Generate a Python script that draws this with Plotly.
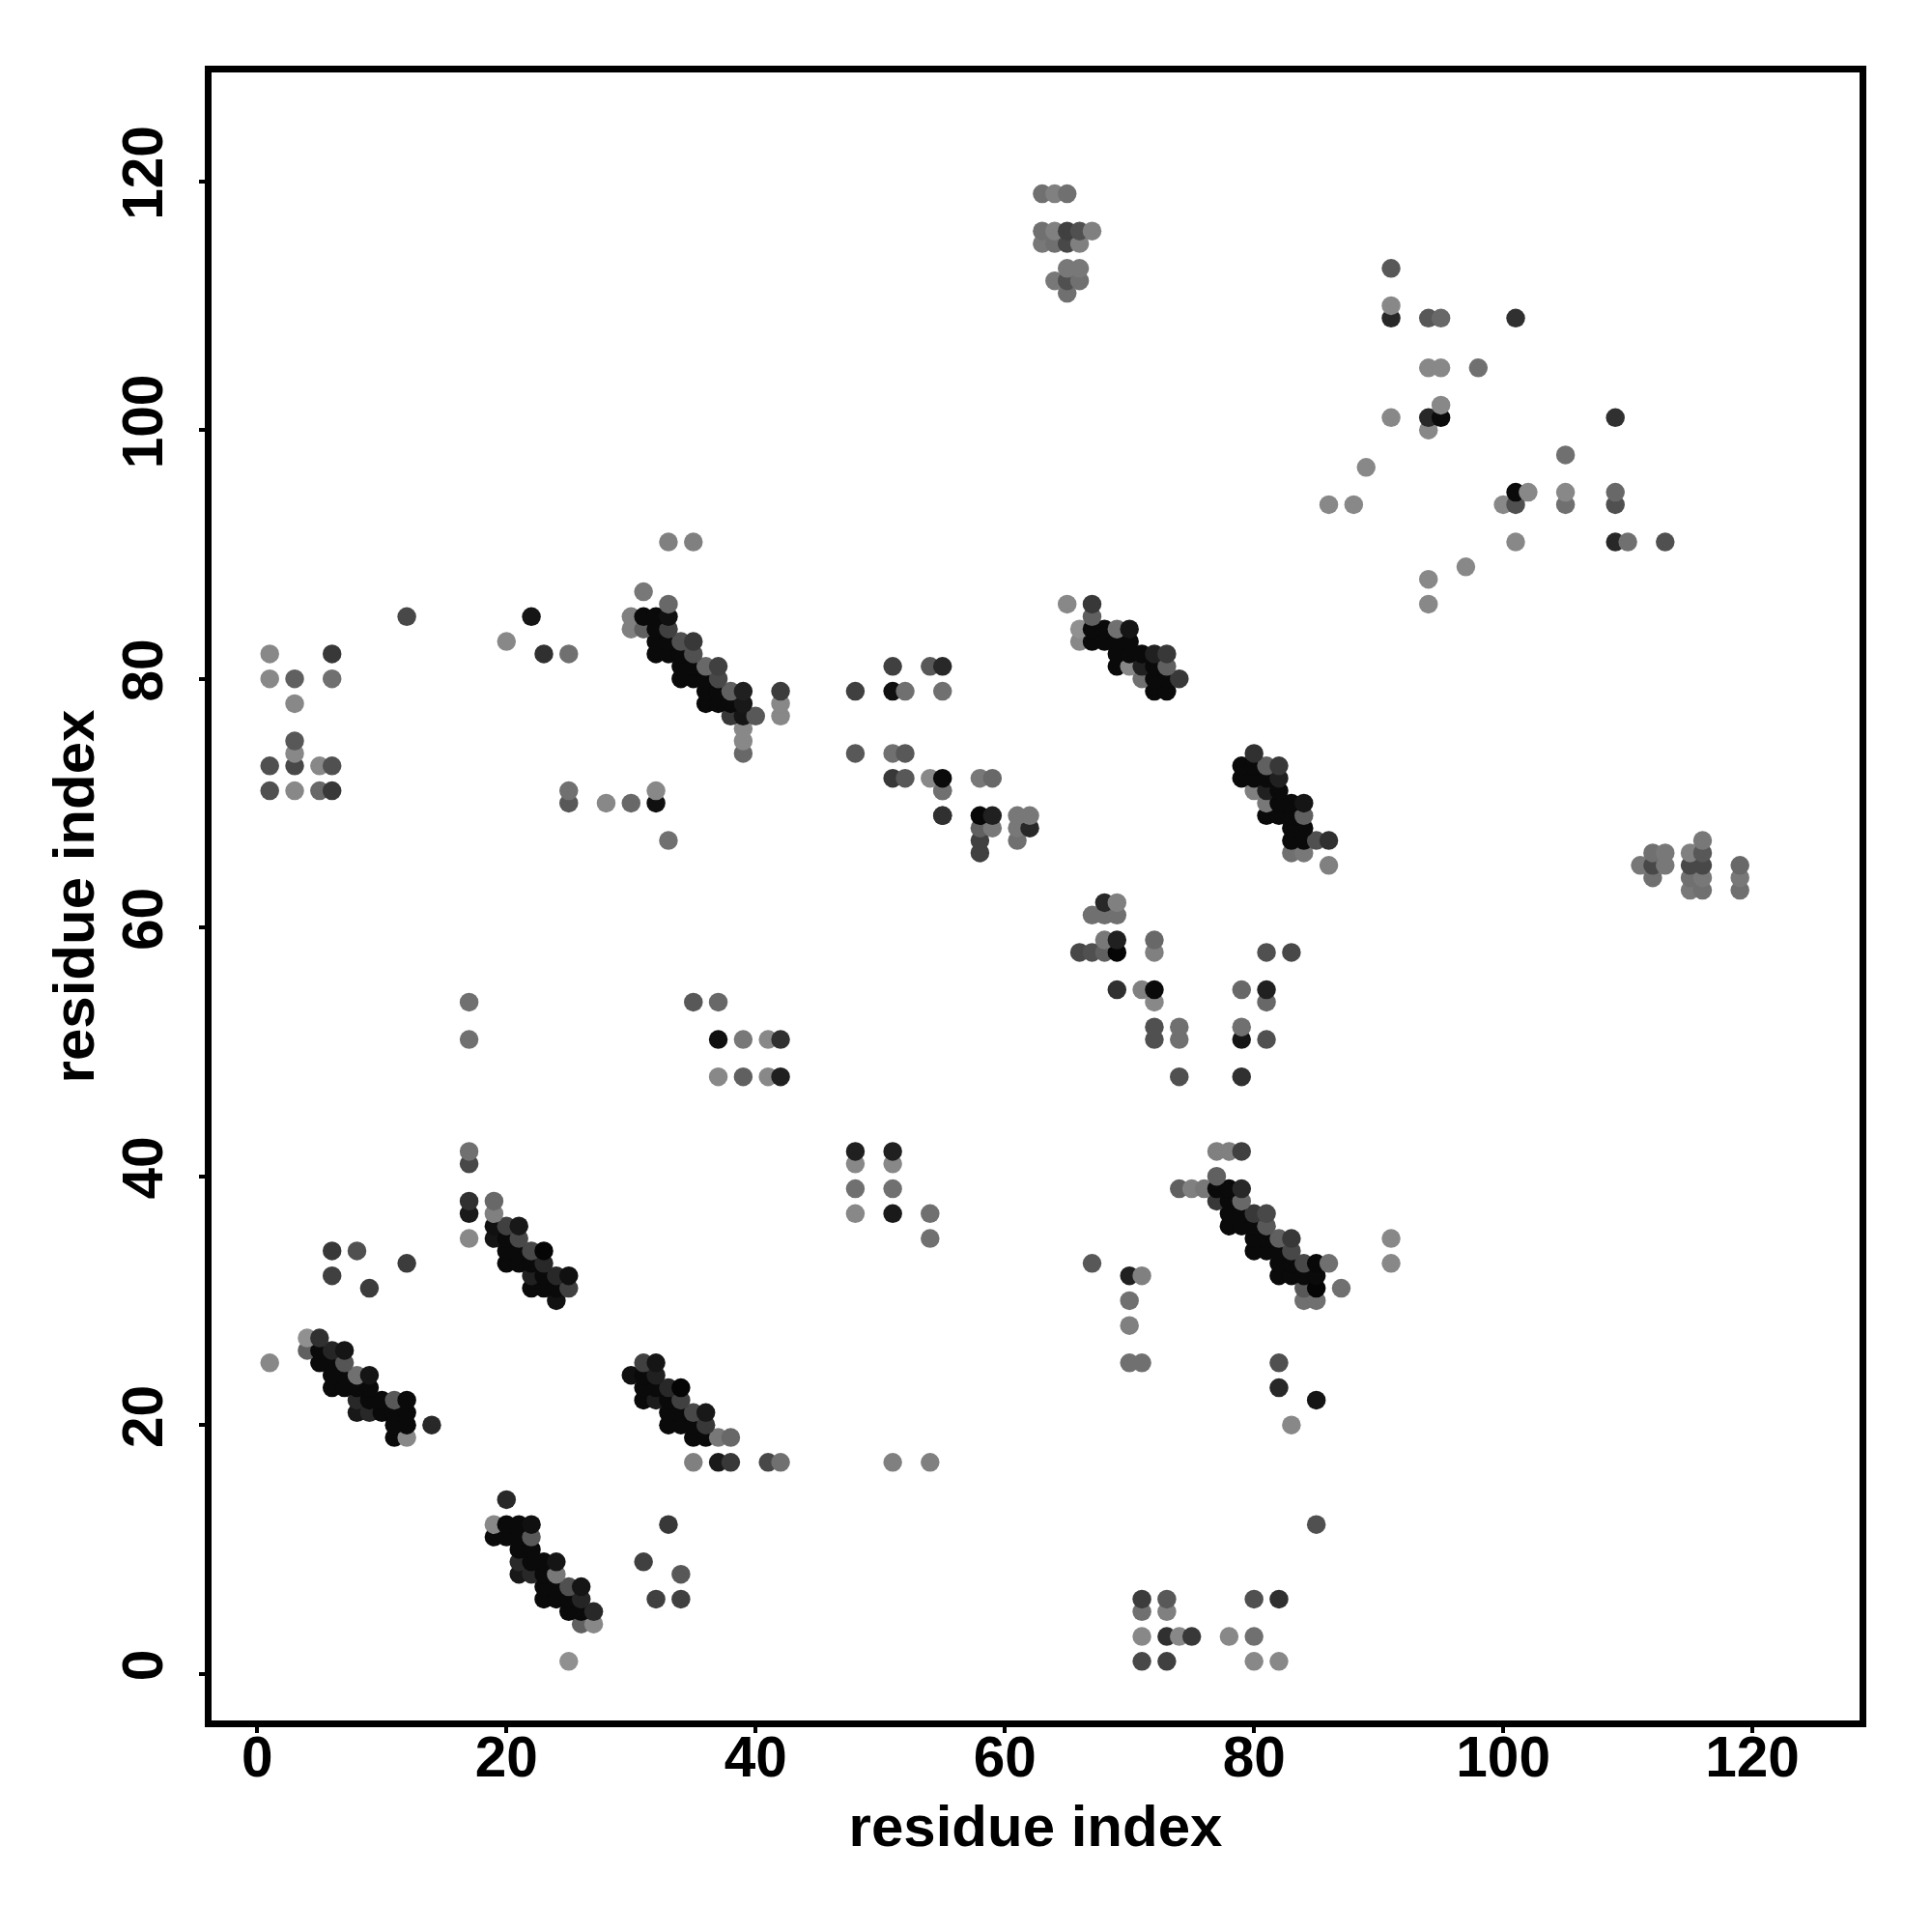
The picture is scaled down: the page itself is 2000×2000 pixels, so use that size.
import plotly.graph_objects as go

K = 10

# (i, j, shade) per contact cluster: i residue, j residue, grey level 0-255
h1_i = [4,5, 4,5,6,7, 5,6,7, 6,7,8,9, 6,7,8,9, 8,9,10,11,12, 8,9,10,11,12, 11,12,14, 11,12]
h1_j = [27,27, 26,26,26,26, 25,25,25, 24,24,24,24, 23,23,23,23, 22,22,22,22,22, 21,21,21,21,21, 20,20,20, 19,19]
h1_g = [144,48, 96,K,37,21, K,K,85, K,K,112,21, K,K,K,K, 40,K,K,88,K, 24,40,K,K,K, K,K,40, K,136]

h2_i = [20, 19,20,21,22, 19,20,21,22, 21,22, 21,22,23,24, 21,22,23,24, 23,24,25,26, 23,24,25,26, 25,26,27, 26,27, 25]
h2_j = [14, 12,12,12,12, 11,11,11,11, 10,10, 9,9,9,9, 8,8,8,8, 7,7,7,7, 6,6,6,6, 5,5,5, 4,4, 1]
h2_g = [40, 136,K,K,16, K,K,K,88, K,K, 42,K,K,21, 24,40,K,120, K,K,80,21, K,K,K,37, K,K,40, 96,136, 144]

h3_i = [17,17,17,17,17, 19,19, 19,20,21, 19,20,21, 20,21,22,23, 20,21,22,23, 22,23,24,25, 22,23,24,25, 24]
h3_j = [42,41,38,37,35, 38,37, 36,36,36, 35,35,35, 34,34,34,34, 33,33,33,33, 32,32,32,32, 31,31,31,31, 30]
h3_g = [112,72,48,26,136, 104,128, 16,64,24, 21,K,72, K,K,72,5, K,K,K,40, 32,K,40,16, K,K,K,64, 18]

h4_i = [31,32, 30,31,32, 31,32,33,34, 31,32,33,34, 33,34,35,36, 33,34,35,36, 35,36,37,38, 35,37,38,41,42, 51,54]
h4_j = [25,25, 24,24,24, 23,23,23,23, 22,22,22,22, 21,21,21,21, 20,20,20,20, 19,19,19,19, 17,17,17,17,17, 17,17]
h4_g = [64,21, 16,K,32, K,K,40,5, K,28,K,64, K,K,72,24, K,K,K,56, K,K,120,104, 128,26,56,72,112, 128,128]

h5_i = [33,35, 31, 33, 30,31,32,33, 30,31,32,33, 32,33,34,35, 32,33,34,35, 34,35,36,37, 34,35,36,37, 36,37,38,39, 36,37,38,39, 38,39,40, 39,39,39, 42,42,42]
h5_j = [91,91, 87, 86, 85,85,85,85, 84,84,84,84, 83,83,83,83, 82,82,82,82, 81,81,81,81, 80,80,80,80, 79,79,79,79, 78,78,78,78, 77,77,77, 76,75,74, 79,78,77]
h5_g = [128,128, 120, 104, 128,K,K,16, 128,96,K,64, K,K,80,56, K,K,K,80, K,K,104,64, K,K,K,72, K,K,96,32, K,K,K,24, 56,21,88, 136,136,104, 60,136,136]

h6_i = [65,67, 67, 66,67,68,69,70, 66,67,68,69,70, 69,70,71,72,73, 69,70,71,72,73, 71,72,73,74, 72,73]
h6_j = [86,86, 85, 84,84,84,84,84, 83,83,83,83,83, 82,82,82,82,82, 81,81,81,81,81, 80,80,80,80, 79,79]
h6_g = [136,56, 96, 144,K,K,112,21, 136,K,K,K,K, K,K,K,32,56, K,136,32,K,96, 112,K,K,56, K,K]

h7_i = [80, 79,80,81,82, 79,80,81,82, 80,81,82, 81,82,83,84, 81,82,83,84, 83,84, 83,84,85,86, 83,84, 86]
h7_j = [74, 73,73,73,73, 72,72,72,72, 71,71,71, 70,70,70,70, 69,69,69,69, 68,68, 67,67,67,67, 66,66, 65]
h7_g = [48, K,K,96,56, K,K,K,32, 128,32,K, 120,K,K,21, K,K,K,96, K,K, K,K,80,48, 112,120, 128]

h8_i = [77,78,79, 77, 74,75,76,77,78,79, 77,78,79, 78,79,80,81, 78,79,80,81, 80,81,82,83, 80,81,82,83, 82,83,84,85,86, 82,83,84,85, 84,85,87, 84,85, 91,91]
h8_j = [42,42,42, 40, 39,39,39,39,39,39, 38,38,38, 37,37,37,37, 36,36,36,36, 35,35,35,35, 34,34,34,34, 33,33,33,33,33, 32,32,32,32, 31,31,31, 30,30, 35,33]
h8_g = [128,128,64, 96, 96,128,120,K,K,40, 56,K,104, K,K,56,72, K,K,K,88, K,K,96,56, K,K,K,72, K,K,72,8,112, K,K,K,K, 88,5,112, 112,112, 136,136]

top_i = [63,64,65, 63,64,65,66,67, 63,64,65,66, 65,66, 64,65,66, 65]
top_j = [119,119,119, 116,116,116,116,116, 115,115,115,115, 113,113, 112,112,112, 111]
top_g = [112,128,112, 112,128,64,80,128, 120,112,72,128, 120,120, 120,80,112, 112]

right_i = [111, 112,112,112, 113,113, 115,115,115,115, 116,116,116,116,116, 119,119,119]
right_j = [65, 66,65,64, 66,65, 66,65,64,63, 67,66,65,64,63, 65,64,63]
right_g = [120, 112,72,112, 120,120, 128,72,112,120, 120,88,72,120,112, 104,120,112]

mid_i = [58,59, 58,59,58,59,58,58, 61,61,61,62,62, 55,55,55, 68,69, 67,68,69, 68,69, 66,67,68,69, 72,72, 69,71,72,72]
mid_j = [72,72, 69,69,68,68,67,66, 69,68,67,69,68, 72,71,69, 62,62, 61,61,61, 59,59, 58,58,58,58, 59,58, 55,55,55,54]
mid_g = [120,104, 8,32,96,120,64,64, 120,120,112,120,40, K,120,48, 40,128, 112,112,112, 120,32, 72,80,96,5, 104,128, 48,128,K,136]

low_i = [1, 6,6,8,9,12, 70,71,70,70,70,71,67, 82,82,85,83, 85, 33,31,32,34,34, 71,71,71,71, 73,73,73,73, 74,75,78, 80,80,80, 82,82, 48,48,48,48, 51,51,51,51, 54,54]
low_j = [25, 34,32,34,31,33, 32,32,30,28,25,25,33, 25,23,22,20, 12, 12,9,6,6,8, 6,5,3,1, 6,5,3,1, 3,3,3, 6,3,1, 6,1, 42,41,39,37, 42,41,39,37, 37,35]
low_g = [136, 56,64,80,60,60, 32,128,112,128,112,112,88, 80,40,21,136, 80, 56,64,64,64,88, 60,112,136,72, 88,128,48,64, 136,56,136, 80,112,136, 48,136, 32,136,112,136, 32,136,112,26, 112,112]

midleft_i = [17,17, 35,37, 37,39,41,42, 37,39,41,42, 72,72,74,74,74, 79,79,79,79, 81,81,81,81, 83]
midleft_j = [54,51, 54,54, 51,51,51,51, 48,48,48,48, 52,51,52,51,48, 55,52,51,48, 58,55,54,51, 58]
midleft_g = [112,112, 88,104, 16,120,136,48, 136,96,136,32, 80,80,112,112,80, 104,112,21,48, 80,32,104,80, 72]

ul_i = [1,1,1,1, 3,3,3,3,3,3, 5,5, 6,6,6,6, 12, 20,22,23,25, 25,25,28,30,32,32,33]
ul_j = [82,80,73,71, 80,78,75,74,73,71, 73,71, 82,80,73,71, 85, 83,85,82,82, 71,70,70,70,71,70,67]
ul_g = [136,136,80,80, 96,136,88,136,72,136, 136,104, 56,112,80,56, 72, 136,21,48,112, 112,88,136,104,136,16,112]

um_i = [48,48, 51,51,51,51, 52,52,52, 54,55,55,54,55,55]
um_j = [79,74, 81,79,74,72, 79,74,72, 81,81,79,72,71,69]
um_g = [64,88, 64,16,112,56, 112,88,88, 88,40,112,136,112,48]

ur_i = [86,88,89, 91,91,91,91, 94,94,94,94,94,94, 95,95,95,95, 97,98,100, 101,101,101,101, 102, 105,105,105, 109,109,109,109, 110,113]
ur_j = [94,94,97, 113,110,109,101, 109,105,101,100,88,86, 109,105,102,101, 89,105,94, 109,95,94,91, 95, 98,95,94, 101,95,94,91, 91,91]
ur_g = [136,136,136, 88,136,40,136, 88,136,40,136,136,136, 104,136,136,K, 136,112,136, 48,K,80,136, 136, 112,136,112, 48,104,80,40, 112,80]

tick_vals = [0, 20, 40, 60, 80, 100, 120]
tick_text = ["0", "20", "40", "60", "80", "100", "120"]
axis_label = "residue index"

xs = h1_i+h2_i+h3_i+h4_i+h5_i+h6_i+h7_i+h8_i+top_i+right_i+mid_i+low_i+midleft_i+ul_i+um_i+ur_i
ys = h1_j+h2_j+h3_j+h4_j+h5_j+h6_j+h7_j+h8_j+top_j+right_j+mid_j+low_j+midleft_j+ul_j+um_j+ur_j
gs = h1_g+h2_g+h3_g+h4_g+h5_g+h6_g+h7_g+h8_g+top_g+right_g+mid_g+low_g+midleft_g+ul_g+um_g+ur_g
assert len(xs) == len(ys) == len(gs), (len(xs), len(ys), len(gs))

order = sorted(range(len(xs)), key=lambda k: (ys[k], xs[k]))
fig = go.Figure(go.Scatter(
    x=[xs[k] for k in order], y=[ys[k] for k in order], mode="markers",
    marker=dict(size=19.5, color=[f"rgb({gs[k]},{gs[k]},{gs[k]})" for k in order], line=dict(width=0)),
    hoverinfo="skip", showlegend=False,
))
font = dict(family="Liberation Sans", size=60, color="black")
axis = dict(
    tickmode="array", tickvals=tick_vals, ticks="outside", ticklen=6, tickwidth=3.5,
    ticktext=[f"<b>{t}</b>" for t in tick_text],
    tickcolor="black", showgrid=False, zeroline=False, showline=True, linecolor="black", linewidth=6.5,
    mirror=True, tickfont=dict(family="Liberation Sans", size=58.5, color="black"), automargin=False,
    title=dict(text=f"<b>{axis_label}</b>", font=font),
)
fig.update_layout(
    width=2000, height=2000, paper_bgcolor="white", plot_bgcolor="white",
    margin=dict(l=211, r=83, t=67, b=227),
    xaxis={**axis, "range": [-3.67, 128.6], "tickangle": 0, "ticklabelstandoff": -25},
    yaxis={**axis, "range": [-3.75, 128.75], "tickangle": -90, "ticklabelstandoff": 15},
)
fig.update_xaxes(title_standoff=22)
fig.update_yaxes(title_standoff=0)
fig.write_html("out.html")
